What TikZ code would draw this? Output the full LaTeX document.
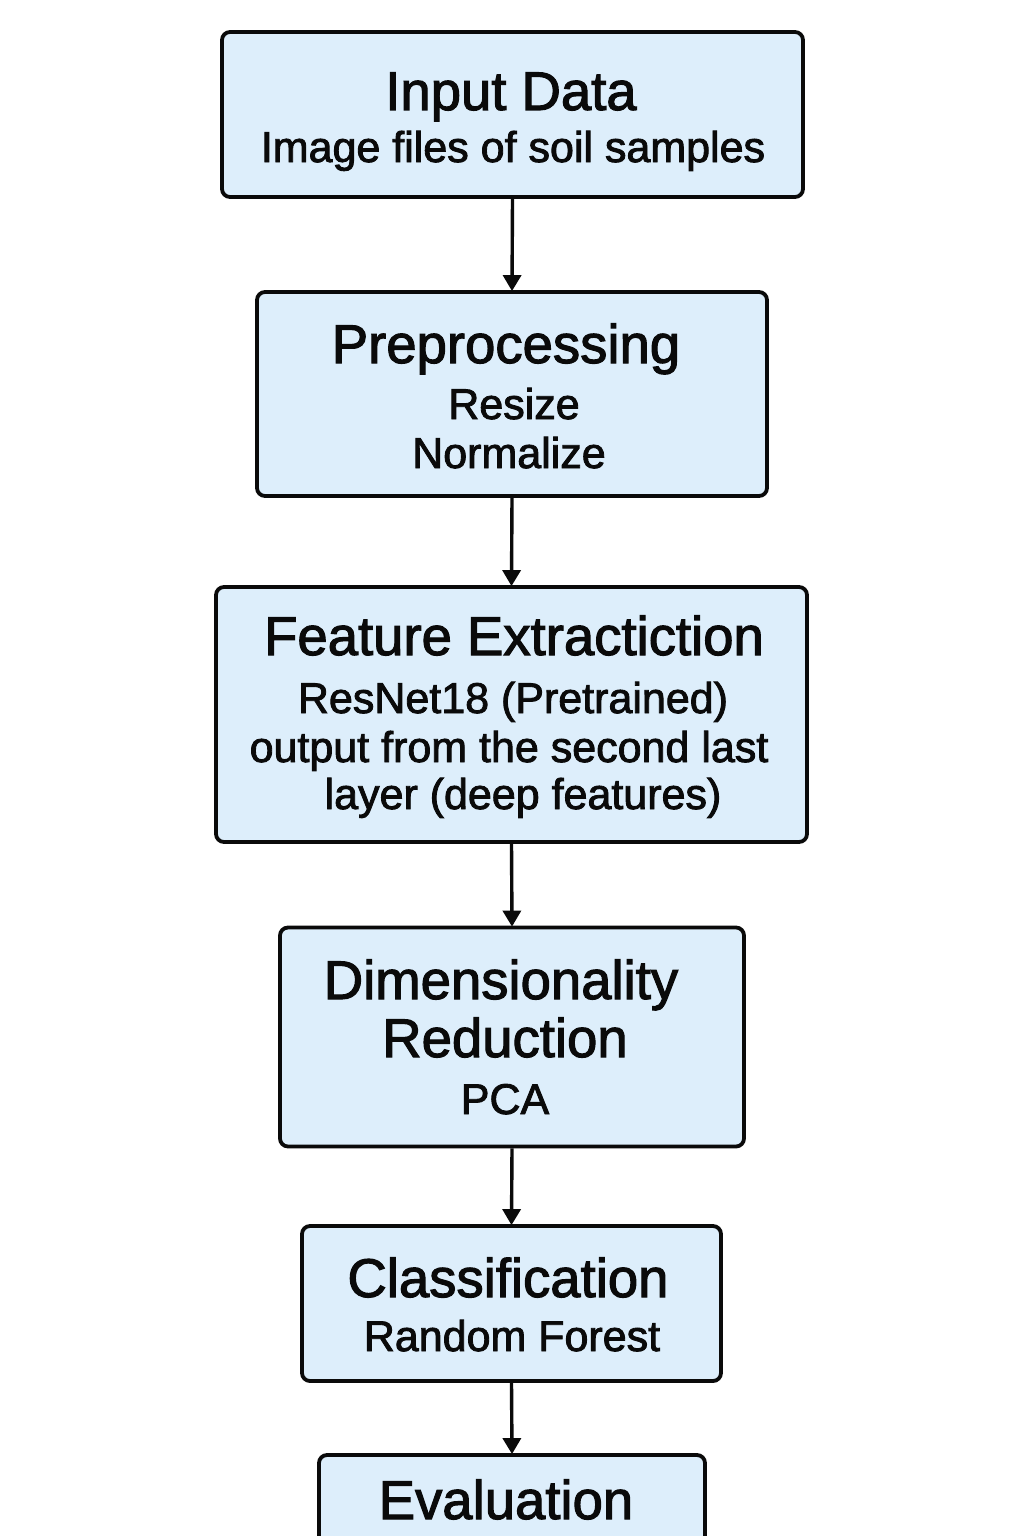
\documentclass[tikz,border=0pt]{standalone}
\usepackage{fontspec}
\setmainfont{Liberation Sans}[FakeBold=2]
\newfontfamily\medfont{Liberation Sans}[FakeBold=2]
\usetikzlibrary{arrows.meta}
\definecolor{boxfill}{HTML}{DDEEFB}
\definecolor{ink}{HTML}{0A0A0A}
\tikzset{
  box/.style={draw=ink, fill=boxfill, line width=3.8pt, rounded corners=8pt, inner sep=0pt},
  ttl/.style={anchor=base, inner sep=0pt, font=\medfont\fontsize{54.5}{60}\selectfont, text=ink},
  sub/.style={anchor=base, inner sep=0pt, font=\medfont\fontsize{43}{48}\selectfont, text=ink},
  conn/.style={draw=ink, line width=3.4pt, -{Triangle[length=16pt,width=18pt]}, shorten >=-1pt}
}
\begin{document}
\begin{tikzpicture}[x=1pt,y=-1pt]
\clip (0,0) rectangle (1024,1536);
\fill[white] (0,0) rectangle (1024,1536);
% boxes
\node[box, minimum width=581pt, minimum height=165pt] (b1) at (512.5,114.5) {};
\node[box, minimum width=510pt, minimum height=204pt] (b2) at (512,394) {};
\node[box, minimum width=591pt, minimum height=255pt] (b3) at (511.5,714.5) {};
\node[box, minimum width=464pt, minimum height=219pt] (b4) at (512,1037) {};
\node[box, minimum width=419pt, minimum height=155pt] (b5) at (511.5,1303.5) {};
\node[box, minimum width=386pt, minimum height=160pt] (b6) at (512,1535) {};
% texts
\node[ttl] (t1) at (511,110) {Input Data};
\node[sub] (s1) at (513,162) {Image files of soil samples};
\node[ttl] (t2) at (506,363) {Preprocessing};
\node[sub] (s2a) at (514,419) {Resize};
\node[sub] (s2b) at (509,468) {Normalize};
\node[ttl] (t3) at (514,655) {Feature Extractiction};
\node[sub] (s3a) at (513,713) {ResNet18 (Pretrained)};
\node[sub] (s3b) at (509,762) {output from the second last};
\node[sub] (s3c) at (523,809) {layer (deep features)};
\node[ttl] (t4a) at (501,999) {Dimensionality};
\node[ttl] (t4b) at (505,1057) {Reduction};
\node[sub] (s4) at (505,1114) {PCA};
\node[ttl] (t5) at (508,1297) {Classification};
\node[sub] (s5) at (512,1351) {Random Forest};
\node[ttl] (t6) at (506,1519) {Evaluation};
% connectors
\draw[conn] (b1.south) -- (b2.north);
\draw[conn] (b2.south) -- (b3.north);
\draw[conn] (b3.south) -- (b4.north);
\draw[conn] (b4.south) -- (b5.north);
\draw[conn] (b5.south) -- (b6.north);
\end{tikzpicture}
\end{document}
